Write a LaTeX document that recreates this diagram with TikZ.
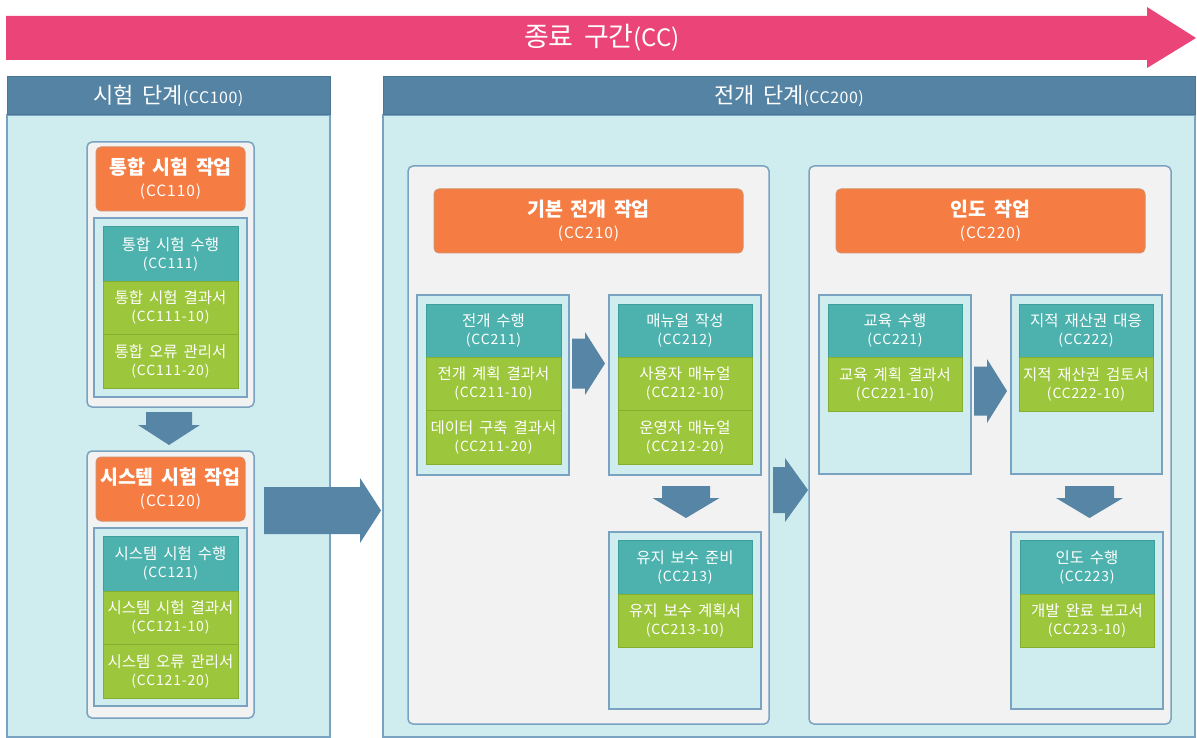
\documentclass[tikz,border=0pt]{standalone}
\usepackage{fontspec}
\setmainfont{Noto Sans CJK KR}[WordSpace=1.7]
\definecolor{pinkc}{HTML}{EA4479}
\definecolor{headc}{HTML}{5483A4}
\definecolor{headb}{HTML}{4B7594}
\definecolor{panelc}{HTML}{CFEDEF}
\definecolor{panelb}{HTML}{7AA3C2}
\definecolor{grayc}{HTML}{F2F2F2}
\definecolor{orangec}{HTML}{F57D43}
\definecolor{orangeb}{HTML}{D98D62}
\definecolor{tealc}{HTML}{4DB2AE}
\definecolor{tealb}{HTML}{3F9E9A}
\definecolor{greenc}{HTML}{9CC63B}
\definecolor{greenb}{HTML}{86AE2E}
\definecolor{arrowc}{HTML}{5685A5}
\newcommand\mkbox[7]{\node[#2, minimum width={#5pt-#3pt}, minimum height={#6pt-#4pt}] (#1) at (#3,#4) {#7};}
\newcommand\cdsmall[1]{{\fontsize{14}{18}\selectfont\addfontfeature{LetterSpace=6}#1}}
\newcommand\cdtask[1]{{\fontsize{15.5}{22}\selectfont\mdseries\addfontfeature{LetterSpace=6}#1}}
\newcommand\cdhead[1]{{\fontsize{16}{20}\selectfont\addfontfeature{LetterSpace=3}#1}}
\newcommand\rarr[6]{\fill[arrowc] (#1,#4-#5) -- (#2,#4-#5) -- (#2,#4-#6) -- (#3,#4) -- (#2,#4+#6) -- (#2,#4+#5) -- (#1,#4+#5) -- cycle;}
\newcommand\darr[6]{\fill[arrowc] (#4-#5,#1) -- (#4-#5,#2) -- (#4-#6,#2) -- (#4,#3) -- (#4+#6,#2) -- (#4+#5,#2) -- (#4+#5,#1) -- cycle;}
\tikzset{
 bx/.style={anchor=north west, inner sep=0pt, outer sep=0pt, align=center, text=white},
 headbox/.style={bx, fill=headc, draw=headb, line width=1pt, font=\fontsize{22}{26}\selectfont},
 panelbox/.style={bx, fill=panelc, draw=panelb, line width=1.5pt},
 grpbox/.style={bx, fill=grayc, draw=panelb, line width=1.5pt, rounded corners=5pt},
 taskbox/.style={bx, fill=orangec, draw=orangeb, line width=1pt, rounded corners=5pt, font=\fontsize{19.5}{22}\selectfont\bfseries},
 innerbox/.style={bx, fill=panelc, draw=panelb, line width=1.3pt},
 actbox/.style={bx, fill=tealc, draw=tealb, line width=1pt, font=\fontsize{15.5}{18}\selectfont},
 docbox/.style={bx, fill=greenc, draw=greenb, line width=1pt, font=\fontsize{15.5}{18}\selectfont},
}
\begin{document}
\begin{tikzpicture}[x=1pt,y=-1pt]
\useasboundingbox (0,0) rectangle (1197,738);
\fill[white] (0,0) rectangle (1197,738);
% top arrow
\fill[pinkc] (6,16) -- (1147,16) -- (1147,7) -- (1196,38) -- (1147,68) -- (1147,60) -- (6,60) -- cycle;
\node[text=white, font=\fontsize{27}{30}\selectfont] (title) at (602,38) {종료 구간{\fontsize{24}{28}\selectfont(CC)}};
% panels
\mkbox{p1}{panelbox}{7}{115}{330}{737}{}
\mkbox{p1h}{headbox}{7}{77}{330}{115}{시험 단계\cdhead{(CC100)}}
\mkbox{p2}{panelbox}{383}{115}{1195}{737}{}
\mkbox{p2h}{headbox}{383}{77}{1195}{115}{전개 단계\cdhead{(CC200)}}
% CC110
\mkbox{g110}{grpbox}{87}{142}{254}{407}{}
\mkbox{t110}{taskbox}{96}{147}{245}{211}{통합 시험 작업\\\cdtask{(CC110)}}
\mkbox{i110}{innerbox}{94}{218}{247}{397}{}
\mkbox{a111}{actbox}{103}{227}{238}{281}{통합 시험 수행\\\cdsmall{(CC111)}}
\mkbox{d111a}{docbox}{103}{281}{238}{334}{통합 시험 결과서\\\cdsmall{(CC111-10)}}
\mkbox{d111b}{docbox}{103}{334}{238}{388}{통합 오류 관리서\\\cdsmall{(CC111-20)}}
\darr{412}{425}{445}{169}{23}{31}
% CC120
\mkbox{g120}{grpbox}{87}{451}{254}{718}{}
\mkbox{t120}{taskbox}{96}{457}{245}{521}{시스템 시험 작업\\\cdtask{(CC120)}}
\mkbox{i120}{innerbox}{94}{528}{247}{706}{}
\mkbox{a121}{actbox}{103}{536}{238}{591}{시스템 시험 수행\\\cdsmall{(CC121)}}
\mkbox{d121a}{docbox}{103}{591}{238}{644}{시스템 시험 결과서\\\cdsmall{(CC121-10)}}
\mkbox{d121b}{docbox}{103}{644}{238}{698}{시스템 오류 관리서\\\cdsmall{(CC121-20)}}
\rarr{264}{360}{381}{510.5}{23.5}{32.5}
% CC210
\mkbox{g210}{grpbox}{408}{166}{769}{724}{}
\mkbox{t210}{taskbox}{434}{189}{743}{253}{기본 전개 작업\\\cdtask{(CC210)}}
\mkbox{i211}{innerbox}{417}{295}{569}{475}{}
\mkbox{a211}{actbox}{426}{304}{561}{357}{전개 수행\\\cdsmall{(CC211)}}
\mkbox{d211a}{docbox}{426}{357}{561}{410}{전개 계획 결과서\\\cdsmall{(CC211-10)}}
\mkbox{d211b}{docbox}{426}{410}{561}{464}{데이터 구축 결과서\\\cdsmall{(CC211-20)}}
\mkbox{i212}{innerbox}{609}{295}{761}{475}{}
\mkbox{a212}{actbox}{618}{304}{752}{357}{매뉴얼 작성\\\cdsmall{(CC212)}}
\mkbox{d212a}{docbox}{618}{357}{752}{410}{사용자 매뉴얼\\\cdsmall{(CC212-10)}}
\mkbox{d212b}{docbox}{618}{410}{752}{464}{운영자 매뉴얼\\\cdsmall{(CC212-20)}}
\rarr{572}{585}{605}{363.5}{25}{31.5}
\darr{486}{498}{518}{686}{24}{33.5}
\mkbox{i213}{innerbox}{609}{532}{761}{709}{}
\mkbox{a213}{actbox}{618}{540}{752}{594}{유지 보수 준비\\\cdsmall{(CC213)}}
\mkbox{d213}{docbox}{618}{594}{752}{647}{유지 보수 계획서\\\cdsmall{(CC213-10)}}
\rarr{773}{785}{808}{490}{23}{32}
% CC220
\mkbox{g220}{grpbox}{809}{166}{1171}{724}{}
\mkbox{t220}{taskbox}{836}{189}{1145}{253}{인도 작업\\\cdtask{(CC220)}}
\mkbox{i221}{innerbox}{819}{295}{971}{474}{}
\mkbox{a221}{actbox}{828}{304}{962}{357}{교육 수행\\\cdsmall{(CC221)}}
\mkbox{d221}{docbox}{828}{357}{962}{411}{교육 계획 결과서\\\cdsmall{(CC221-10)}}
\mkbox{i222}{innerbox}{1011}{295}{1162}{474}{}
\mkbox{a222}{actbox}{1019}{304}{1153}{357}{지적 재산권 대응\\\cdsmall{(CC222)}}
\mkbox{d222}{docbox}{1019}{357}{1153}{411}{지적 재산권 검토서\\\cdsmall{(CC222-10)}}
\rarr{974}{987}{1007}{391}{24.5}{32}
\darr{486}{498}{518}{1089.5}{24.5}{33.5}
\mkbox{i223}{innerbox}{1011}{532}{1163}{709}{}
\mkbox{a223}{actbox}{1020}{540}{1154}{594}{인도 수행\\\cdsmall{(CC223)}}
\mkbox{d223}{docbox}{1020}{594}{1154}{647}{개발 완료 보고서\\\cdsmall{(CC223-10)}}
\end{tikzpicture}
\end{document}
